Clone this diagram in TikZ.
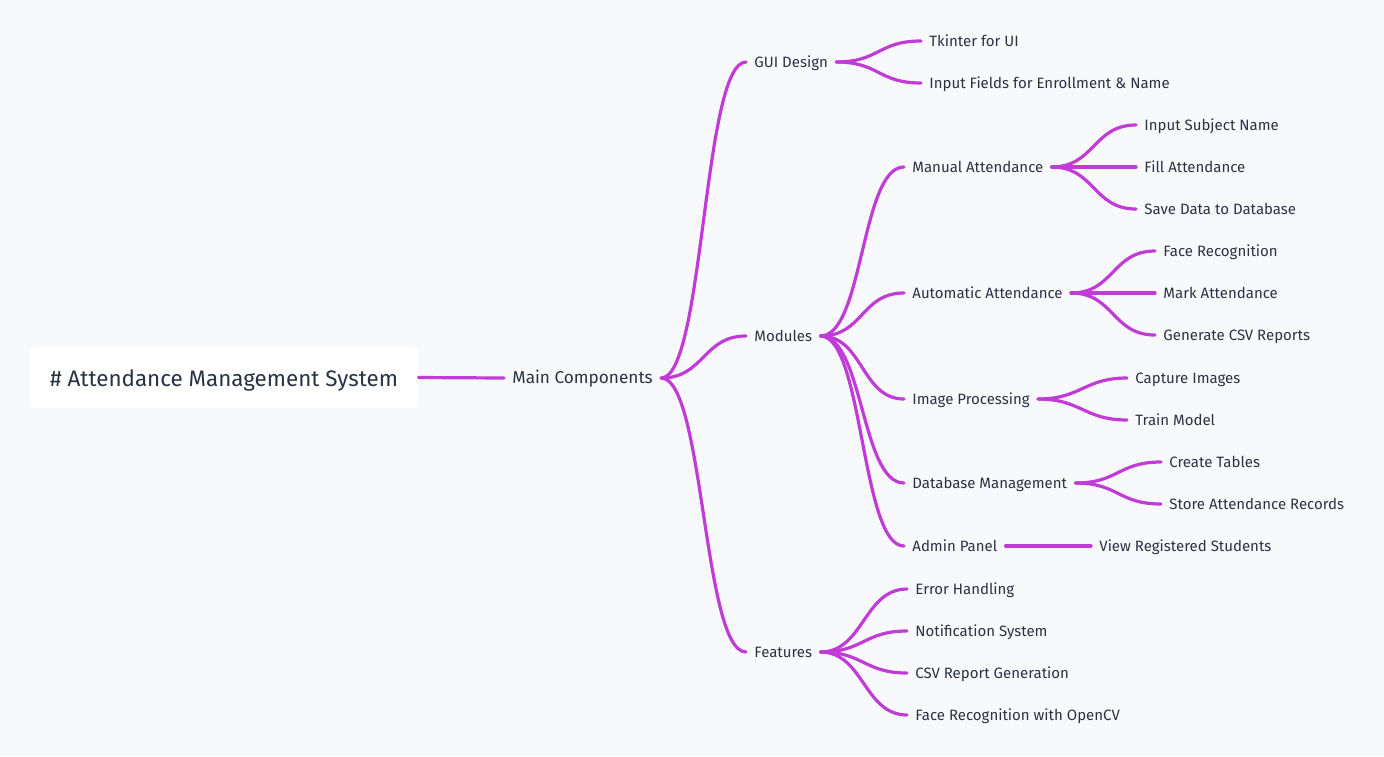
\documentclass[tikz,border=0pt]{standalone}
\usepackage{fontspec}
\setmainfont{Fira Sans}
\definecolor{bgcol}{HTML}{F8F9FB}
\definecolor{linkcol}{HTML}{C13BD6}
\definecolor{inkcol}{HTML}{2A3342}
\begin{document}
\begin{tikzpicture}
    [x=0.5pt,y=-0.5pt,
     item/.style={anchor=west,inner xsep=4pt,inner ysep=0pt,text=inkcol,font=\fontsize{7.5}{9}\selectfont,text height=0.72em,text depth=0.22em},
     mid/.style={item,font=\fontsize{8.6}{10}\selectfont},
     rootbox/.style={fill=white,rounded corners=2.5pt,minimum width=194pt,minimum height=30.5pt,text=inkcol,font=\fontsize{11.2}{13}\selectfont,text height=0.9em,text depth=0.05em},
     link/.style={draw=linkcol,line width=1.6pt,line cap=round}]
    \fill[bgcol] (0,0) rectangle (1384,756);
    \useasboundingbox (0,0) rectangle (1384,756);

    \node[rootbox] (root) at (224,377.5) {\# Attendance Management System};
    \node[mid] (main) at (504,378) {Main Components};

    \node[item] (gui) at (746,62) {GUI Design};
    \node[item] (mod) at (746,336) {Modules};
    \node[item] (feat) at (746,652) {Features};

    \node[item] (tk) at (921,41) {Tkinter for UI};
    \node[item] (input) at (921,83) {Input Fields for Enrollment \& Name};

    \node[item] (man) at (904,167) {Manual Attendance};
    \node[item] (auto) at (904,293) {Automatic Attendance};
    \node[item] (img) at (904,399) {Image Processing};
    \node[item] (db) at (904,483) {Database Management};
    \node[item] (adm) at (904,546) {Admin Panel};

    \node[item] (subj) at (1136,125) {Input Subject Name};
    \node[item] (fill) at (1136,167) {Fill Attendance};
    \node[item] (save) at (1136,209) {Save Data to Database};

    \node[item] (facer) at (1155,251) {Face Recognition};
    \node[item] (mark) at (1155,293) {Mark Attendance};
    \node[item] (gen) at (1155,335) {Generate CSV Reports};

    \node[item] (cap) at (1127,378) {Capture Images};
    \node[item] (train) at (1127,420) {Train Model};

    \node[item] (tab) at (1161,462) {Create Tables};
    \node[item] (rec) at (1161,504) {Store Attendance Records};

    \node[item] (view) at (1091,546) {View Registered Students};

    \node[item] (err) at (907,589) {Error Handling};
    \node[item] (notif) at (907,631) {Notification System};
    \node[item] (csv) at (907,673) {CSV Report Generation};
    \node[item] (fcv) at (907,715) {Face Recognition with OpenCV};

    \foreach \a/\b in {root/main, main/gui, main/mod, main/feat, gui/tk, gui/input,
        mod/man, mod/auto, mod/img, mod/db, mod/adm, man/subj, man/fill, man/save,
        auto/facer, auto/mark, auto/gen, img/cap, img/train, db/tab, db/rec, adm/view,
        feat/err, feat/notif, feat/csv, feat/fcv}
      \draw[link] (\a.east) .. controls +(43,0) and +(-43,0) .. (\b.west);
\end{tikzpicture}
\end{document}
